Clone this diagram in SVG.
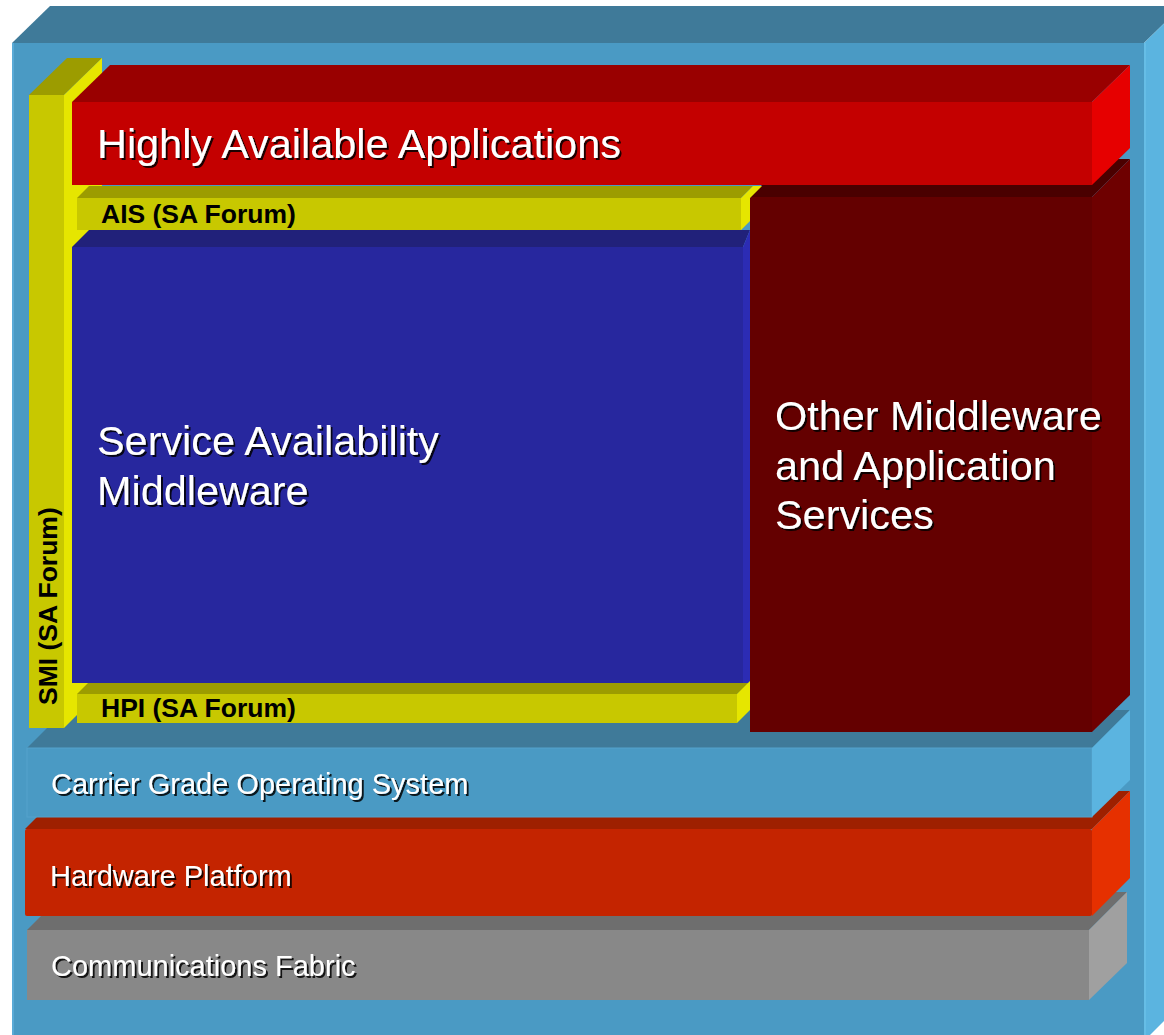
<svg xmlns="http://www.w3.org/2000/svg" width="1164" height="1035" viewBox="0 0 1164 1035">
  <style>
    .lbl { font-family: "Liberation Sans", Arial, sans-serif; fill: #ffffff; filter: url(#shadow); }
    .big { font-size: 41.4px; }
    .mid { font-size: 29px; }
    .api { font-family: "Liberation Sans", Arial, sans-serif; font-weight: bold; font-size: 26.5px; fill: #000000; }
  </style>
  <defs>
    <filter id="shadow" x="-5%" y="-20%" width="110%" height="140%">
      <feDropShadow dx="2" dy="2" stdDeviation="0.6" flood-color="#000000" flood-opacity="0.85"/>
    </filter>
  </defs>

  <!-- enclosing platform block -->
  <g id="platform">
    <polygon points="12,43 50,6 1182,6 1144,43" fill="#3f7a99"/>
    <rect x="12" y="43" width="1132" height="998" fill="#4a9ac4"/>
    <line x1="13" y1="43" x2="13" y2="1041" stroke="#5aaad6" stroke-width="2"/>
    <polygon points="1144,43 1182,6 1182,1003 1144,1041" fill="#5bb4e0"/>
    <line x1="1145" y1="43" x2="1145" y2="1041" stroke="#66bde6" stroke-width="2"/>
  </g>

  <!-- communications fabric layer -->
  <g id="fabric">
    <polygon points="27,930 65,892 1127,892 1089,930" fill="#6e6e6e"/>
    <rect x="27" y="930" width="1062" height="70" fill="#888888"/>
    <polygon points="1089,930 1127,892 1127,963 1089,1000" fill="#a0a0a0"/>
    <text class="lbl mid" x="51" y="976">Communications Fabric</text>
  </g>

  <!-- hardware platform layer -->
  <g id="hardware">
    <polygon points="25,829 63,791 1130,791 1092,829" fill="#9e2000"/>
    <rect x="25" y="829" width="1067" height="87" rx="2" fill="#c42400"/>
    <polygon points="1092,829 1130,791 1130,878 1092,916" fill="#e63000"/>
    <text class="lbl mid" x="50" y="886">Hardware Platform</text>
  </g>

  <!-- carrier grade OS layer -->
  <g id="os">
    <polygon points="27,748 65,710 1130,710 1092,748" fill="#3f7a99"/>
    <rect x="27" y="748" width="1065" height="69" fill="#4a9ac4" stroke="#54a2cc" stroke-width="1"/>
    <polygon points="1092,748 1130,710 1130,780 1092,817" fill="#5bb4e0"/>
    <text class="lbl mid" x="51" y="794">Carrier Grade Operating System</text>
  </g>

  <!-- SMI vertical interface bar -->
  <g id="smi">
    <polygon points="29,95 67,58 102,58 64,95" fill="#9c9c00"/>
    <rect x="29" y="95" width="35" height="633" fill="#c8c800"/>
    <polygon points="64,95 102,58 102,690 64,728" fill="#e6e600"/>
    <text class="api" transform="translate(57,705) rotate(-90)">SMI (SA Forum)</text>
  </g>

  <!-- other middleware block -->
  <g id="other">
    <polygon points="750,197 788,159 1130,159 1092,197" fill="#4a0000"/>
    <rect x="750" y="197" width="342" height="535" fill="#640000"/>
    <polygon points="1092,197 1130,159 1130,695 1092,732" fill="#6e0000"/>
    <text class="lbl big">
      <tspan x="775" y="430">Other Middleware</tspan>
      <tspan x="775" y="480">and Application</tspan>
      <tspan x="775" y="529">Services</tspan>
    </text>
  </g>

  <!-- AIS interface bar -->
  <g id="ais">
    <polygon points="77,198 89,186 753,186 741,198" fill="#9c9c00"/>
    <rect x="77" y="198" width="664" height="32" fill="#c8c800"/>
    <polygon points="741,198 753,186 762,186 750,198 750,221 741,230" fill="#e6e600"/>
    <text class="api" x="101" y="223">AIS (SA Forum)</text>
  </g>

  <!-- service availability middleware block -->
  <g id="sam">
    <polygon points="72,247 89,230 750,230 743,247" fill="#21217a"/>
    <rect x="72" y="247" width="671" height="436" fill="#27279e"/>
    <polygon points="743,247 750,230 750,683 743,683" fill="#2c2cb4"/>
    <text class="lbl big">
      <tspan x="97" y="455">Service Availability</tspan>
      <tspan x="97" y="505">Middleware</tspan>
    </text>
  </g>

  <!-- HPI interface bar -->
  <g id="hpi">
    <polygon points="77,694 88,683 750,683 737,694" fill="#9c9c00"/>
    <rect x="77" y="694" width="660" height="29" fill="#c8c800"/>
    <polygon points="737,694 750,681 750,710 737,723" fill="#e6e600"/>
    <text class="api" x="101" y="717">HPI (SA Forum)</text>
  </g>

  <!-- highly available applications bar -->
  <g id="apps">
    <polygon points="72,102 110,65 1130,65 1092,102" fill="#990000"/>
    <rect x="72" y="102" width="1020" height="83" fill="#c40000"/>
    <polygon points="1092,102 1130,65 1130,148 1092,185" fill="#e60000"/>
    <text class="lbl big" x="97" y="158">Highly Available Applications</text>
  </g>

  <!-- no connectors in this layered stack -->
  <g id="connectors"/>
</svg>
